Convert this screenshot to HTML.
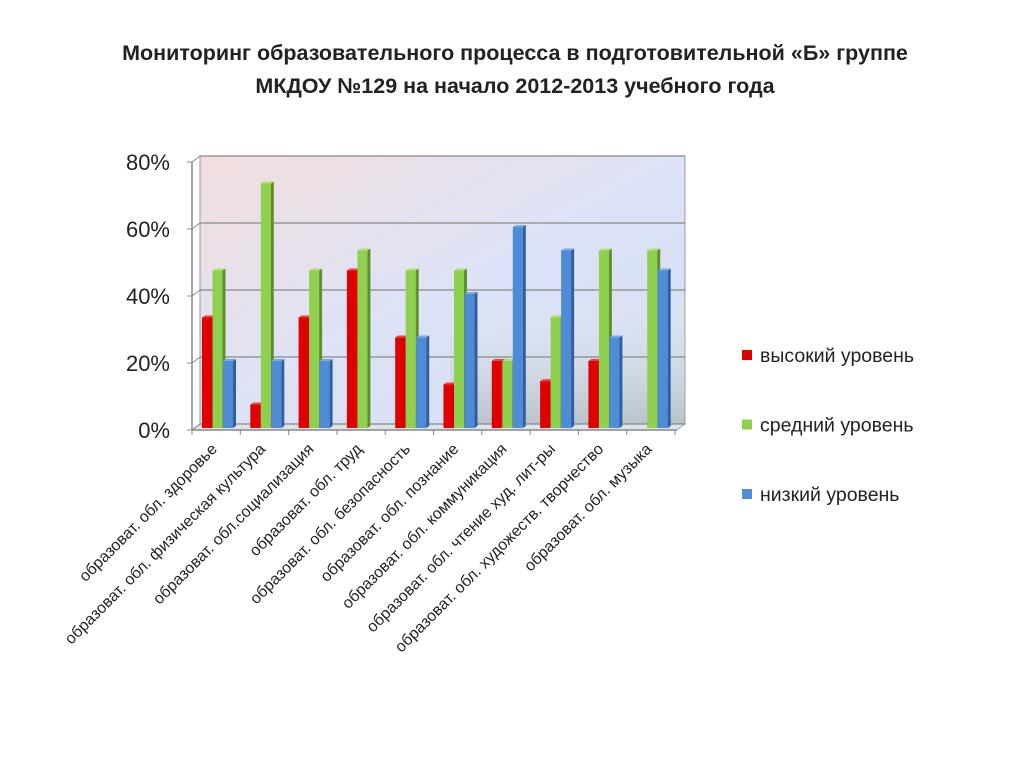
<!DOCTYPE html>
<html><head><meta charset="utf-8"><style>
body{margin:0;width:1024px;height:768px;background:#fff;font-family:"Liberation Sans","DejaVu Sans",sans-serif;overflow:hidden}
</style></head><body>
<svg width="1024" height="768" xmlns="http://www.w3.org/2000/svg">
<defs>
<linearGradient id="wall" x1="0" y1="0" x2="1" y2="1">
<stop offset="0" stop-color="#f3dede"/><stop offset="0.5" stop-color="#dde3f6"/><stop offset="1" stop-color="#d3ddf2"/>
</linearGradient>
<linearGradient id="shade" x1="0" y1="0" x2="0" y2="1">
<stop offset="0" stop-color="#fff" stop-opacity="0"/><stop offset="1" stop-color="#9aa8a0" stop-opacity="0.5"/>
</linearGradient>
</defs>
<text x="515" y="60" text-anchor="middle" font-size="21.5" font-weight="bold" fill="#222">Мониторинг образовательного процесса в подготовительной «Б» группе</text>
<text x="515" y="93" text-anchor="middle" font-size="21.5" font-weight="bold" fill="#222">МКДОУ №129 на начало 2012-2013 учебного года</text>
<g id="plot"></g>
<g id="legend"></g>
</svg>
<script>
const categories=["образоват. обл. здоровье","образоват. обл. физическая культура","образоват. обл.социализация","образоват. обл. труд","образоват. обл. безопасность","образоват. обл. познание","образоват. обл. коммуникация","образоват. обл. чтение худ. лит-ры","образоват. обл. художеств. творчество","образоват. обл. музыка"];
const highLevel=[33,7,33,47,27,13,20,14,20,0];
const midLevel=[47,73,47,53,47,47,20,33,53,53];
const lowLevel=[20,20,20,0,27,40,60,53,27,47];
const seriesNames=["высокий уровень","средний уровень","низкий уровень"];
const yTicks=[0,20,40,60,80];
const NS="http://www.w3.org/2000/svg";
const plot=document.getElementById('plot');
function mk(tag,attrs,parent){const e=document.createElementNS(NS,tag);for(const k in attrs)e.setAttribute(k,attrs[k]);(parent||plot).appendChild(e);return e;}
const wallL=200,wallR=685,wallTop=156,wallBase=424;
const yWall=v=>wallBase-(v/80)*(wallBase-wallTop);
const yBar=v=>428-(v/80)*(428-160);
const x0=192,catW=48.3;
const xCat=i=>x0+i*catW;
let e=mk('rect',{x:wallL,y:wallTop,width:wallR-wallL,height:wallBase-wallTop,fill:'url(#wall)',stroke:'#999'});

e=mk('rect',{x:wallL+250,y:wallTop+130,width:wallR-wallL-250,height:wallBase-wallTop-130,fill:'url(#shade)'});

e=mk('polygon',{points:`${wallL},${wallBase} ${wallR},${wallBase} ${wallR-8},${wallBase+6} ${x0},${wallBase+6}`,fill:'#dfe3ea',stroke:'#aaa'});

yTicks.forEach(t=>{
 const y=yWall(t);
 let g=mk('line',{x1:wallL,x2:wallR,y1:y,y2:y,stroke:'#888','stroke-width':1.2});
 
 g=mk('line',{x1:x0-5,x2:x0,y1:y+6,y2:y+6,stroke:'#888'});
 
 g=mk('line',{x1:x0,x2:wallL,y1:y+6,y2:y,stroke:'#888'});
 
 const tx=mk('text',{x:170,y:y+14,'text-anchor':'end','font-size':22,fill:'#222'});
 tx.textContent=t+'%';
 
});
e=mk('line',{x1:x0,x2:x0,y1:yWall(80)+6,y2:wallBase+6,stroke:'#888','stroke-width':1.5});

e=mk('line',{x1:x0,x2:wallR-8,y1:wallBase+6,y2:wallBase+6,stroke:'#888','stroke-width':1.5});

const series=[highLevel,midLevel,lowLevel];
const cols=[['#e00000','#a00000','#f04040'],['#8fd14f','#5e8f2e','#b0e070'],['#4f8bd6','#2f5f9f','#7aaae6']];
for(let i=0;i<=categories.length;i++){
 const t=mk('line',{x1:xCat(i),x2:xCat(i),y1:wallBase+6,y2:wallBase+11,stroke:'#888'});
 
}
categories.forEach((c,i)=>{
 series.forEach((s,k)=>{
  const v=s[i];if(v<=0)return;
  const bx=xCat(i)+10+k*10.5,bw=10,top=yBar(v),base=428,d=3;
  const g=mk('g',{});
  
  
  mk('rect',{x:bx,y:top,width:bw,height:base-top,fill:cols[k][0]},g);
  mk('polygon',{points:`${bx+bw},${top} ${bx+bw+d},${top-2} ${bx+bw+d},${base-2} ${bx+bw},${base}`,fill:cols[k][1]},g);
  mk('polygon',{points:`${bx},${top} ${bx+d},${top-2} ${bx+bw+d},${top-2} ${bx+bw},${top}`,fill:cols[k][2]},g);
 });
 const lx=xCat(i)+26,ly=450;
 const t=mk('text',{x:lx,y:ly,'text-anchor':'end','font-size':16,fill:'#222',transform:`rotate(-45 ${lx} ${ly})`});
 t.textContent=c;
 
});
const leg=document.getElementById('legend');
seriesNames.forEach((n,k)=>{
 const y=355+k*69.5;
 const g=mk('g',{},leg);
 
 mk('rect',{x:742,y:y-5,width:10,height:10,fill:cols[k][0]},g);
 const t=mk('text',{x:760,y:y+7,'font-size':19.5,fill:'#222'},g);
 t.textContent=n;
});
</script>
</body></html>
